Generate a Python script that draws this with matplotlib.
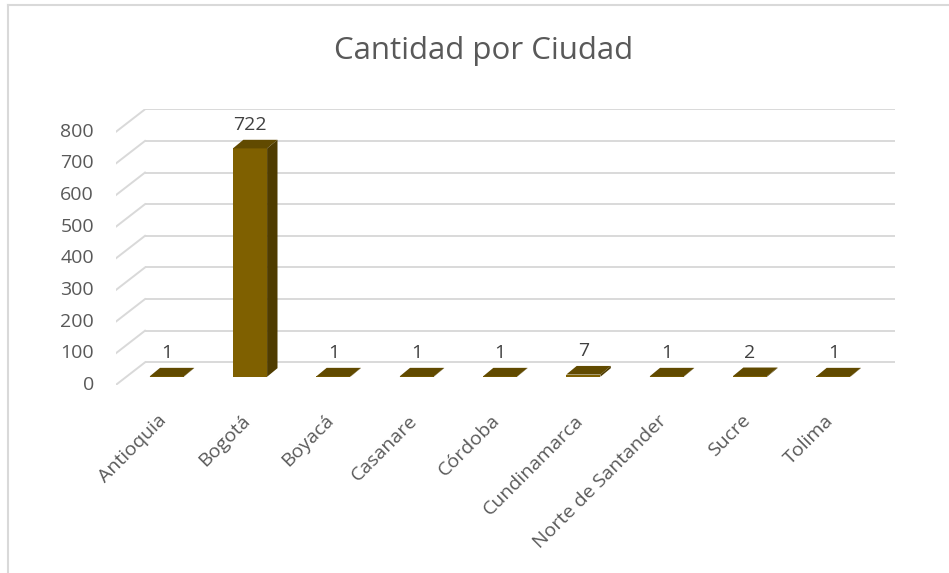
#!/usr/bin/env python3
"""Cantidad por Ciudad - Excel style 3D column chart -> out.png"""
import matplotlib
matplotlib.use("Agg")
import matplotlib.pyplot as plt
from matplotlib.patches import Polygon
from matplotlib.lines import Line2D

plt.rcParams["font.family"] = ["Open Sans", "DejaVu Sans"]

# data
ciudades = ["Antioquia", "Bogotá", "Boyacá", "Casanare", "Córdoba",
            "Cundinamarca", "Norte de Santander", "Sucre", "Tolima"]
cantidad = [1, 722, 1, 1, 1, 7, 1, 2, 1]
y_ticks = [0, 100, 200, 300, 400, 500, 600, 700, 800]

# colors
C_FRONT = "#7F6000"
C_TOP = "#614A00"
C_SIDE = "#4F3C00"
C_GRID = "#D9D9D9"
C_TEXT = "#595959"
C_LABEL = "#404040"

# fake 3D geometry (x in category units, y in value units)
WALL_DX, WALL_DY = -0.348, -71.0   # back wall -> front edge of floor
BAR_DX, BAR_DY = 0.125, 27.2       # bar front face -> bar back face
BAR_BASE = -45.6                   # bar front face bottom
BAR_SHIFT = -0.24                  # bar front face center vs category
BAR_W = 0.41

fig = plt.figure(figsize=(9.49, 5.73), dpi=100)
ax = fig.add_axes([116 / 949, 1 - 384.8 / 573, 779 / 949, 275.5 / 573])
ax.set_xlim(-0.5 + WALL_DX, len(ciudades) - 0.5)
ax.set_ylim(WALL_DY, 800)
ax.axis("off")

# back wall gridlines + side diagonals
x_left, x_right = -0.5, len(ciudades) - 0.5
for v in y_ticks:
    ax.plot([x_left, x_right], [v, v], color=C_GRID, lw=1.4, zorder=1, solid_capstyle="butt")
    ax.plot([x_left, x_left + WALL_DX], [v, v + WALL_DY], color=C_GRID, lw=1.4, zorder=1)
    ax.text(-1.112, v + WALL_DY, str(v), ha="right", va="center", fontsize=14, color=C_TEXT)

# bars: front face with ax.bar, top and side as polygons
xs = [i + BAR_SHIFT for i in range(len(ciudades))]
ax.bar(xs, cantidad, width=BAR_W, bottom=BAR_BASE, color=C_FRONT, zorder=3)
for x, v in zip(xs, cantidad):
    x0, x1 = x - BAR_W / 2, x + BAR_W / 2
    top = BAR_BASE + v
    ax.add_patch(Polygon([(x0, top), (x1, top), (x1 + BAR_DX, top + BAR_DY), (x0 + BAR_DX, top + BAR_DY)],
                         closed=True, facecolor=C_TOP, edgecolor="none", zorder=4))
    ax.add_patch(Polygon([(x1, BAR_BASE), (x1 + BAR_DX, BAR_BASE + BAR_DY), (x1 + BAR_DX, top + BAR_DY), (x1, top)],
                         closed=True, facecolor=C_SIDE, edgecolor="none", zorder=4))
    ax.text(x, v + 11.6, str(v), ha="center", va="baseline", fontsize=14, color=C_LABEL, zorder=5)

# category labels
for i, name in enumerate(ciudades):
    ax.text(i - 0.27, -175, name, rotation=45, rotation_mode="anchor", ha="right", va="center",
            fontsize=14, color=C_TEXT, clip_on=False)

fig.text(484 / 949, 1 - 59.3 / 573, "Cantidad por Ciudad", ha="center", va="baseline",
         fontsize=22.5, color=C_TEXT)

# chart area border (left and top visible)
fig.add_artist(Line2D([8 / 949, 8 / 949], [0, 1 - 5 / 573], color=C_GRID, lw=1.5))
fig.add_artist(Line2D([8 / 949, 1], [1 - 5 / 573, 1 - 5 / 573], color=C_GRID, lw=1.5))

fig.savefig("out.png", dpi=100, facecolor="white")
